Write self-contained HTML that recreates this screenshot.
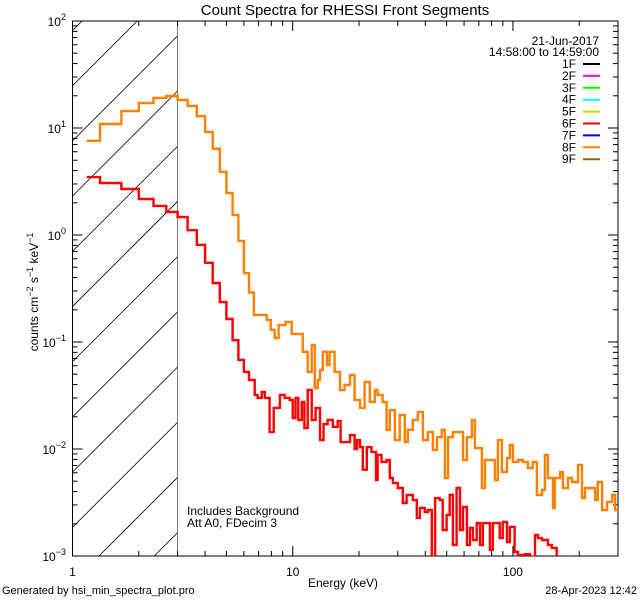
<!DOCTYPE html>
<html><head><meta charset="utf-8"><style>
body{margin:0;background:#fff;}
svg{display:block;font-family:"Liberation Sans",sans-serif;}
</style></head><body>
<svg id="chart" width="640" height="600" viewBox="0 0 640 600" xmlns="http://www.w3.org/2000/svg">
<rect width="640" height="600" fill="#fff"/>
<text x="345" y="15" font-size="15" text-anchor="middle">Count Spectra for RHESSI Front Segments</text>
<text transform="translate(38,292) rotate(-90)" font-size="12" text-anchor="middle">counts cm<tspan font-size="9" dy="-5">−2</tspan><tspan dy="5"> s</tspan><tspan font-size="9" dy="-5">−1</tspan><tspan dy="5"> keV</tspan><tspan font-size="9" dy="-5">−1</tspan></text>
<text x="343" y="587" font-size="12" text-anchor="middle">Energy (keV)</text>
<text x="2" y="594" font-size="11">Generated by hsi_min_spectra_plot.pro</text>
<text x="637" y="594" font-size="11" text-anchor="end">28-Apr-2023 12:42</text>
<text x="187" y="515" font-size="12">Includes Background</text>
<text x="187" y="527" font-size="12">Att A0, FDecim 3</text>
<text x="599" y="45" font-size="12" text-anchor="end">21-Jun-2017</text>
<text x="599" y="56" font-size="12" text-anchor="end">14:58:00 to 14:59:00</text>
<g id="legend"></g>
<g id="hatch"></g>
<g id="axes"></g>
<g id="series"></g>
</svg>
<script>
const NS='http://www.w3.org/2000/svg';
const xMin=1, xMax=300, yMin=1e-3, yMax=1e2;
const L=72.5, R=618, T=21, B=556;
const xTickMajors=[1,10,100];
const xTickLabels=['1','10','100'];
const yTickExps=[2,1,0,-1,-2,-3];
const legendLabels=['1F','2F','3F','4F','5F','6F','7F','8F','9F'];
const legendColors=['#000','#ff00ff','#00ff00','#00ffff','#d4d400','#ff0000','#0000ff','#ff8000','#807000'];
const hatchEnergyMax=3;

const orangeE=[1.16,1.333,1.667,2.0,2.333,2.667,3.0,3.333,3.667,4.0,4.333,4.667,5.0,5.333,5.667,6.0,6.333,6.667,7.0,7.62,7.94,8.28,8.63,9.29,9.89,11.1,11.7,12.2,12.6,13.0,13.3,13.7,14.3,14.7,15.5,16.4,17.2,18.2,19.1,20.2,21.2,22.4,23.6,24.3,25.6,26.7,27.6,29.1,30.6,32.3,33.3,35.1,37.0,39.0,41.1,43.3,45.2,47.5,49.1,50.7,53.4,56.2,59.3,61.8,65.1,67.2,72.3,74.6,78.6,82.8,85.5,89.1,94.0,96.9,100,105.4,111,117,123,128.5,135.5,139.7,144.2,152,155,163.6,168.7,177.8,185.4,197.4,206,212.4,224,236,243,254,267.5,282,291,300];
const orangeV=[7.6,10.9,14.4,17.1,19.1,19.9,18.3,16.1,12.9,9.2,6.4,3.9,2.47,1.54,0.88,0.44,0.29,0.179,0.179,0.161,0.130,0.109,0.144,0.154,0.119,0.081,0.0525,0.094,0.0372,0.0442,0.0547,0.081,0.061,0.081,0.0525,0.0356,0.0396,0.0492,0.0287,0.0242,0.0423,0.0275,0.0356,0.032,0.0275,0.0151,0.0231,0.0121,0.0208,0.0116,0.0151,0.0187,0.0222,0.0121,0.0144,0.0098,0.0129,0.0151,0.00536,0.0129,0.0144,0.0144,0.00789,0.0129,0.0187,0.0102,0.00432,0.00789,0.00789,0.00513,0.0121,0.0061,0.00824,0.0109,0.00757,0.00789,0.00757,0.00664,0.00757,0.00372,0.00414,0.0088,0.00536,0.00281,0.00536,0.0061,0.00432,0.00536,0.00492,0.00708,0.00348,0.00432,0.00432,0.00334,0.00492,0.00269,0.0032,0.00372,0.00269];

const redE=[1.16,1.333,1.667,2.0,2.333,2.667,3.0,3.333,3.667,4.0,4.333,4.667,5.0,5.333,5.667,6.0,6.333,6.72,6.93,7.23,7.47,7.85,8.2,8.75,9.2,9.69,10.0,10.3,10.6,11.0,11.3,11.7,12.2,12.7,13.3,13.8,14.4,15.2,16.0,16.5,18.2,19.1,19.6,20.2,20.8,21.7,22.8,23.9,24.3,25.3,26.7,27.6,28.5,30.0,31.6,32.9,35.1,36.6,37.8,39.8,41.1,42.8,44.3,46.5,48.0,50.0,51.6,53.4,55.5,57.5,59.3,61.8,63.8,65.8,68.5,70.9,73.0,78.6,81.0,87.1,89.9,94.0,96.9,101.8,105.4,113,119.7,126,130,135.5,144.2,150,158,178,182,300];
const redV=[3.48,3.06,2.69,2.17,1.87,1.64,1.47,1.11,0.81,0.55,0.356,0.236,0.164,0.104,0.068,0.0525,0.0442,0.032,0.030,0.0341,0.030,0.0144,0.0242,0.032,0.030,0.0287,0.0195,0.030,0.0187,0.0275,0.0157,0.0356,0.0187,0.0242,0.0121,0.0171,0.0187,0.0161,0.0183,0.0116,0.0135,0.0100,0.0121,0.0104,0.0064,0.0104,0.0094,0.00513,0.0088,0.00757,0.0079,0.00536,0.0048,0.00432,0.00313,0.00372,0.00334,0.00227,0.00281,0.00258,0.00269,0.0007,0.00348,0.00334,0.00175,0.00242,0.00372,0.00127,0.00432,0.00175,0.00287,0.00127,0.00183,0.00141,0.00203,0.00127,0.00203,0.00114,0.00203,0.00147,0.00208,0.00135,0.00187,0.00109,0.00102,0.00104,0.00098,0.00157,0.00147,0.00141,0.00127,0.00119,0.0007,0.00098,0.0007];

function xs(e){return L+(R-L)*(Math.log10(e)-Math.log10(xMin))/(Math.log10(xMax)-Math.log10(xMin));}
function ys(v){return B-(B-T)*(Math.log10(v)-Math.log10(yMin))/(Math.log10(yMax)-Math.log10(yMin));}
function mk(tag,attrs,parent){const el=document.createElementNS(NS,tag);for(const k in attrs)el.setAttribute(k,attrs[k]);parent.appendChild(el);return el;}

const svg=document.getElementById('chart');
const defs=mk('defs',{},svg);
const cp=mk('clipPath',{id:'plotclip'},defs);
mk('rect',{x:L,y:T,width:R-L,height:B-T},cp);
const hcp=mk('clipPath',{id:'hatchclip'},defs);
mk('rect',{x:L,y:T,width:xs(hatchEnergyMax)-L,height:B-T},hcp);

// hatch
const hatch=document.getElementById('hatch');
hatch.setAttribute('clip-path','url(#hatchclip)');
for(let k=-2;k<14;k++){
  const c=655-55.2*k;
  const ln=mk('line',{x1:c-B,y1:B,x2:c-T,y2:T,stroke:'#000','stroke-width':0.8},hatch);
  
  
}
const vl=mk('line',{x1:xs(hatchEnergyMax),y1:T,x2:xs(hatchEnergyMax),y2:B,stroke:'#000','stroke-width':1},hatch);



// axes
const axes=document.getElementById('axes');
const frame=mk('rect',{x:L,y:T,width:R-L,height:B-T,fill:'none',stroke:'#000','stroke-width':1},axes);


for(let d=0;d<3;d++){
  for(let m=1;m<10;m++){
    const e=Math.pow(10,d)*m; if(e>xMax) break;
    const x=xs(e), len=(m===1)?10:5;
    mk('line',{x1:x,y1:B,x2:x,y2:B-len,stroke:'#000'},axes);
    mk('line',{x1:x,y1:T,x2:x,y2:T+len,stroke:'#000'},axes);
  }
}
xTickMajors.forEach((e,i)=>{
  const t=mk('text',{x:xs(e),y:B+20,'font-size':12,'text-anchor':'middle'},axes);
  t.textContent=xTickLabels[i];
  
  
});
yTickExps.forEach(p=>{
  for(let m=1;m<10;m++){
    const v=Math.pow(10,p)*m; if(v>yMax) break;
    const y=ys(v), len=(m===1)?10:5;
    mk('line',{x1:L,y1:y,x2:L+len,y2:y,stroke:'#000'},axes);
    mk('line',{x1:R,y1:y,x2:R-len,y2:y,stroke:'#000'},axes);
  }
  const t=mk('text',{x:66,y:ys(Math.pow(10,p))+5,'font-size':12,'text-anchor':'end'},axes);
  
  
  t.appendChild(document.createTextNode('10'));
  const s=mk('tspan',{'font-size':9,dy:-6},t); s.textContent=(p<0?'−':'')+Math.abs(p);
});

// legend
const legend=document.getElementById('legend');
legendLabels.forEach((lab,i)=>{
  const y=64+i*11.9;
  const g=mk('g',{},legend);
  
  
  const t=mk('text',{x:576,y:y+4,'font-size':12,'text-anchor':'end'},g); t.textContent=lab;
  mk('line',{x1:583,y1:y,x2:600,y2:y,stroke:legendColors[i],'stroke-width':2},g);
});

// series
const series=document.getElementById('series');
series.setAttribute('clip-path','url(#plotclip)');
function stepPath(E,V){
  let d='';
  for(let i=0;i<V.length;i++){
    const x0=xs(E[i]),x1=xs(E[i+1]),y=ys(V[i]);
    d+=(i===0?'M':'L')+x0.toFixed(1)+','+y.toFixed(1)+'L'+x1.toFixed(1)+','+y.toFixed(1);
  }
  return d;
}
const pr=mk('path',{d:stepPath(redE,redV),fill:'none',stroke:'#ff0000','stroke-width':2.4},series);


const po=mk('path',{d:stepPath(orangeE,orangeV),fill:'none',stroke:'#ff8000','stroke-width':2.4},series);


</script>
</body></html>
